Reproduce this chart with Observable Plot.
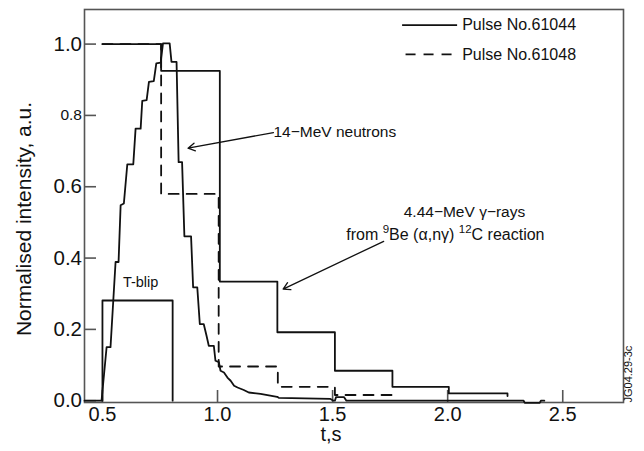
<!DOCTYPE html>
<html><head><meta charset="utf-8">
<script src="https://cdn.jsdelivr.net/npm/d3@7"></script>
<script src="https://cdn.jsdelivr.net/npm/@observablehq/plot@0.6"></script>
<style>body{margin:0;background:#fff} #chart svg{display:block}</style>
</head><body><div id="chart"></div>
<script>
// 14-MeV neutron trace (pulse 61044)
const neutronT = [0.422,0.496,0.518,0.535,0.557,0.570,0.579,0.593,0.608,0.634,0.644,0.666,0.673,0.692,0.702,0.723,0.734,0.753,0.763,0.792,0.800,0.822,0.831,0.846,0.856,0.885,0.894,0.912,0.923,0.940,0.952,0.962,0.984,0.991,1.006,1.013,1.028,1.043,1.057,1.072,1.087,1.114,1.136,1.187,1.259,1.266,1.491,1.504,1.510,1.515,1.550,1.560,2.330,2.335,2.400,2.405,2.420];
const neutronV = [0,0,0.15,0.15,0.389,0.389,0.548,0.553,0.663,0.663,0.763,0.763,0.841,0.843,0.894,0.896,0.946,0.948,1.002,1.002,0.950,0.950,0.669,0.669,0.461,0.461,0.318,0.318,0.215,0.215,0.183,0.154,0.154,0.112,0.108,0.084,0.079,0.065,0.056,0.042,0.037,0.030,0.023,0.019,0.011,0.008,0.005,0,0,0.01,0.01,0,0,-0.006,-0.006,0,0];
// 4.44-MeV gamma histograms
const gammaEdges61044 = [0.5,0.755,1.01,1.26,1.51,1.76,2.005,2.26];
const gammaValues61044 = [1.0,0.925,0.334,0.192,0.084,0.039,0.0205];
const gammaEnd61044 = 0.013;
const gammaEdges61048 = [0.5,0.755,1.005,1.262,1.51,1.76];
const gammaValues61048 = [1.0,0.58,0.096,0.039,0.016];
const gammaEnd61048 = 0.008;
// T-blip
const tblipT = [0.5,0.5,0.805,0.805];
const tblipV = [0,0.281,0.281,0];
// ticks and labels
const xTicks = [0.5,1.0,1.5,2.0,2.5];
const yTicks = [0,0.2,0.4,0.6,0.8,1.0];
const yTicksBig = [0,0.2,0.4,0.6,1.0];
const yTicksSmall = [0.8];
const legendLabels = ["Pulse No.61044","Pulse No.61048"];
const xTitle = "t,s";
const yTitle = "Normalised intensity, a.u.";
const neutronLabel = "14\u2212MeV neutrons";
const gammaLabel1 = "4.44\u2212MeV \u03b3\u2212rays";
const gammaLabel2 = "from 9Be (\u03b1,n\u03b3) 12C reaction";
const tblipLabel = "T-blip";
const figId = "JG04.29-3c";

function steps(edges, values, endV) {
  const pts = [];
  values.forEach((v, i) => { pts.push({t: edges[i], v}); pts.push({t: edges[i+1], v}); });
  pts.push({t: edges[edges.length-1], v: endV});
  return pts;
}
const neutron = neutronT.map((t,i)=>({t, v: neutronV[i]}));
const g44 = steps(gammaEdges61044, gammaValues61044, gammaEnd61044);
const g48 = steps(gammaEdges61048, gammaValues61048, gammaEnd61048);
const tblip = tblipT.map((t,i)=>({t, v: tblipV[i]}));

const FONT = "'Liberation Sans', Arial, Helvetica, sans-serif";
const ink = "#111";
const frameCol = "#555";

const svg = Plot.plot({
  width: 644, height: 451,
  marginLeft: 84, marginRight: 21, marginTop: 9, marginBottom: 49,
  style: {fontFamily: FONT, background: "#fff", color: ink},
  x: {domain: [0.422, 2.764]},
  y: {domain: [-0.005, 1.097]},
  marks: [
    Plot.frame({stroke: frameCol, strokeWidth: 1.6}),
    Plot.axisX(xTicks, {tickSize: -12, text: null, stroke: frameCol, strokeWidth: 1.6, label: null}),
    Plot.axisX(xTicks, {tickSize: 0, tickPadding: 4, tickFormat: d3.format(".1f"), fontSize: 20, fill: ink, label: null}),
    Plot.axisY(yTicks, {tickSize: -12, text: null, stroke: frameCol, strokeWidth: 1.6, label: null}),
    Plot.axisY(yTicksBig, {tickSize: 0, tickPadding: 2.5, tickFormat: d3.format(".1f"), fontSize: 20.5, fill: ink, label: null}),
    Plot.axisY(yTicksSmall, {tickSize: 0, tickPadding: 2.5, tickFormat: d3.format(".1f"), fontSize: 15.5, fill: ink, label: null}),
    Plot.text([xTitle], {frameAnchor: "bottom", dx: -23, dy: 38.5, fontSize: 20, fill: ink}),
    Plot.text([yTitle], {frameAnchor: "left", textAnchor: "middle", rotate: -90, dx: -60, dy: 13, fontSize: 21, fill: ink}),
    Plot.line(tblip, {x: "t", y: "v", stroke: ink, strokeWidth: 1.8}),
    Plot.line(g48, {x: "t", y: "v", stroke: ink, strokeWidth: 1.8, strokeDasharray: "10,8"}),
    Plot.line(g44, {x: "t", y: "v", stroke: ink, strokeWidth: 1.8}),
    Plot.line(neutron, {x: "t", y: "v", stroke: ink, strokeWidth: 1.8}),
    // legend
    Plot.link([0], {x1: 1.802, x2: 2.041, y1: 1.053, y2: 1.053, stroke: ink, strokeWidth: 1.8}),
    Plot.link([0], {x1: 1.817, x2: 2.041, y1: 0.971, y2: 0.971, stroke: ink, strokeWidth: 1.8, strokeDasharray: "10,8"}),
    Plot.text([legendLabels[0]], {x: 2.063, y: 1.053, textAnchor: "start", fontSize: 16, fill: ink}),
    Plot.text([legendLabels[1]], {x: 2.063, y: 0.971, textAnchor: "start", fontSize: 16, fill: ink}),
    // annotations
    Plot.text([neutronLabel], {x: 1.243, y: 0.754, textAnchor: "start", fontSize: 15.5, fill: ink}),
    Plot.arrow([0], {x1: 1.243, y1: 0.752, x2: 0.872, y2: 0.708, stroke: ink, strokeWidth: 1.3, headLength: 9}),
    Plot.text([gammaLabel1], {x: 2.073, y: 0.528, fontSize: 15.5, fill: ink}),
    Plot.text([gammaLabel2], {x: 1.99, y: 0.466, fontSize: 16, fill: ink}),
    Plot.arrow([0], {x1: 1.722, y1: 0.447, x2: 1.285, y2: 0.313, stroke: ink, strokeWidth: 1.3, headLength: 9}),
    Plot.text([tblipLabel], {x: 0.666, y: 0.332, fontSize: 14.5, fill: ink}),
    Plot.text([figId], {frameAnchor: "bottom-right", rotate: -90, textAnchor: "start", dx: 8, fontSize: 11, fill: ink})
  ]
});

// superscripts in the gamma annotation
d3.select(svg).selectAll("text").filter(function(){ return this.textContent === gammaLabel2; }).each(function(){
  const t = d3.select(this); t.text(null);
  const parts = [["from ",0,null],["9",-7,11.5],["Be (\u03b1,n\u03b3) ",7,null],["12",-7,11.5],["C reaction",7,null]];
  parts.forEach(([s,dy,fs]) => { const sp = t.append("tspan").attr("dy", dy).text(s); if (fs) sp.attr("font-size", fs); });
});
document.getElementById("chart").append(svg);
</script>
</body></html>
